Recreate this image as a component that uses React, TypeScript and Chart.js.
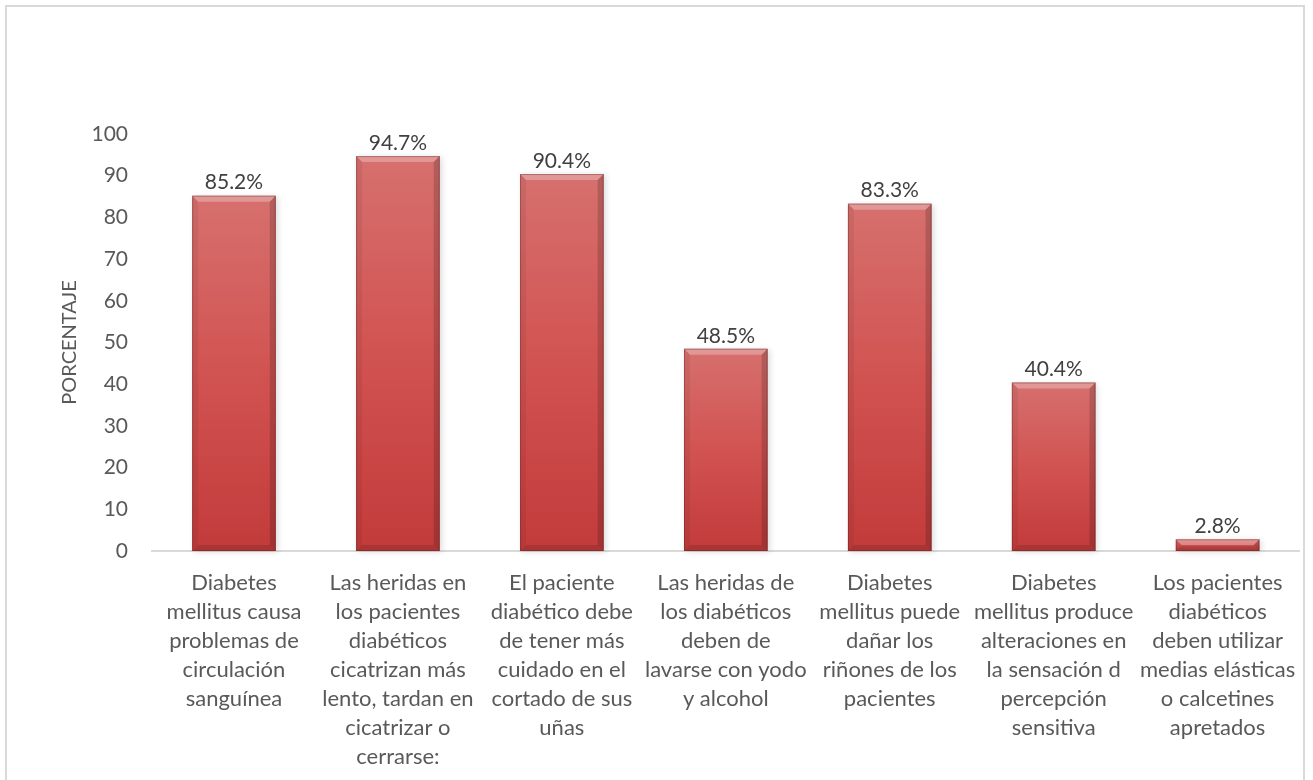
import React, { useEffect, useRef } from 'react';
import { Chart, registerables } from 'chart.js';

Chart.register(...registerables);

const categories: string[][] = [
  ['Diabetes', 'mellitus causa', 'problemas de', 'circulación', 'sanguínea'],
  ['Las heridas en', 'los pacientes', 'diabéticos', 'cicatrizan más', 'lento, tardan en', 'cicatrizar o', 'cerrarse:'],
  ['El paciente', 'diabético debe', 'de tener más', 'cuidado en el', 'cortado de sus', 'uñas'],
  ['Las heridas de', 'los diabéticos', 'deben de', 'lavarse con yodo', 'y alcohol'],
  ['Diabetes', 'mellitus puede', 'dañar los', 'riñones de los', 'pacientes'],
  ['Diabetes', 'mellitus produce', 'alteraciones en', 'la sensación d', 'percepción', 'sensitiva'],
  ['Los pacientes', 'diabéticos', 'deben utilizar', 'medias elásticas', 'o calcetines', 'apretados'],
];
const values: number[] = [85.2, 94.7, 90.4, 48.5, 83.3, 40.4, 2.8];
const yMin = 0;
const yMax = 100;
const yStep = 10;
const yTitle = 'PORCENTAJE';

const FONT = 'Lato';

const bevelPlugin = {
  id: 'bevel',
  beforeDatasetsDraw(chart: any) {
    const ctx = chart.ctx;
    const meta = chart.getDatasetMeta(0);
    ctx.save();
    meta.data.forEach((el: any) => {
      const { x, y, base, width } = el.getProps(['x', 'y', 'base', 'width'], true);
      const l = x - width / 2;
      ctx.shadowColor = 'rgba(0,0,0,0.28)';
      ctx.shadowBlur = 6;
      ctx.shadowOffsetX = 2;
      ctx.shadowOffsetY = 1;
      ctx.fillStyle = 'rgba(120,120,120,0.5)';
      ctx.fillRect(l, y, width, base - y);
    });
    ctx.restore();
  },
  afterDatasetsDraw(chart: any) {
    const ctx = chart.ctx;
    const meta = chart.getDatasetMeta(0);
    ctx.save();
    meta.data.forEach((el: any, i: number) => {
      const { x, y, base, width } = el.getProps(['x', 'y', 'base', 'width'], true);
      const l = x - width / 2;
      const r = x + width / 2;
      const b = Math.min(6, (base - y) / 2);
      const poly = (pts: number[][], color: string) => {
        ctx.beginPath();
        ctx.moveTo(pts[0][0], pts[0][1]);
        for (let k = 1; k < pts.length; k++) ctx.lineTo(pts[k][0], pts[k][1]);
        ctx.closePath();
        ctx.fillStyle = color;
        ctx.fill();
      };
      poly([[l, y], [r, y], [r - b, y + b], [l + b, y + b]], 'rgba(255,255,255,0.28)');
      poly([[l, y], [l + b, y + b], [l + b, base - b], [l, base]], 'rgba(0,0,0,0.06)');
      poly([[r, y], [r - b, y + b], [r - b, base - b], [r, base]], 'rgba(0,0,0,0.16)');
      poly([[l, base], [l + b, base - b], [r - b, base - b], [r, base]], 'rgba(0,0,0,0.12)');
      ctx.strokeStyle = 'rgba(90,30,30,0.35)';
      ctx.lineWidth = 1;
      ctx.strokeRect(l + 0.5, y + 0.5, width - 1, base - y - 1);

      ctx.fillStyle = '#404040';
      ctx.font = `21px ${FONT}`;
      ctx.textAlign = 'center';
      ctx.textBaseline = 'middle';
      ctx.fillText(values[i].toFixed(1) + '%', x, y - 13);
    });
    ctx.restore();
  },
};

export default function App() {
  const ref = useRef<HTMLCanvasElement | null>(null);

  useEffect(() => {
    if (!ref.current) return;
    const chart = new Chart(ref.current, {
      type: 'bar',
      data: {
        labels: categories,
        datasets: [
          {
            data: values,
            categoryPercentage: 1,
            barPercentage: 0.51,
            backgroundColor: (c: any) => {
              const ch = c.chart;
              const ys = ch.scales && ch.scales.y;
              if (!ch.chartArea || !ys || c.raw === undefined) return '#d05452';
              const top = ys.getPixelForValue(c.raw);
              const base = ys.getPixelForValue(0);
              const g = ch.ctx.createLinearGradient(0, top, 0, base);
              g.addColorStop(0, '#d6706e');
              g.addColorStop(0.5, '#d15351');
              g.addColorStop(1, '#c23b3b');
              return g;
            },
            borderWidth: 0,
          },
        ],
      },
      options: {
        animation: false,
        responsive: false,
        maintainAspectRatio: false,
        layout: { padding: { top: 134, right: 11, left: 0, bottom: 0 } },
        plugins: {
          legend: { display: false },
          tooltip: { enabled: false },
        },
        scales: {
          x: {
            grid: { display: false, drawTicks: false },
            border: { display: true, color: '#d9d9d9', width: 2 },
            ticks: {
              autoSkip: false,
              maxRotation: 0,
              minRotation: 0,
              padding: 17,
              color: '#595959',
              font: { family: FONT, size: 22, lineHeight: '29px' },
            },
            afterFit: (s: any) => {
              s.height = 229;
            },
          },
          y: {
            min: yMin,
            max: yMax,
            grid: { display: false, drawTicks: false },
            border: { display: false },
            ticks: {
              stepSize: yStep,
              padding: 24,
              color: '#595959',
              font: { family: FONT, size: 21 },
            },
            title: {
              display: true,
              text: yTitle,
              color: '#595959',
              font: { family: FONT, size: 20 },
              padding: { top: 58, bottom: 0 },
            },
            afterFit: (s: any) => {
              s.width = 152;
            },
          },
        },
      },
      plugins: [bevelPlugin],
    });
    return () => chart.destroy();
  }, []);

  return (
    <div style={{ position: 'absolute', left: 0, top: 0, width: 1313, height: 780, overflow: 'hidden', background: '#fff' }}>
      <div
        style={{
          position: 'absolute',
          left: 5,
          top: 5,
          width: 1300,
          height: 820,
          border: '2px solid #d9d9d9',
          boxSizing: 'border-box',
        }}
      />
      <canvas ref={ref} width={1313} height={780} style={{ position: 'absolute', left: 0, top: 0 }} />
    </div>
  );
}
